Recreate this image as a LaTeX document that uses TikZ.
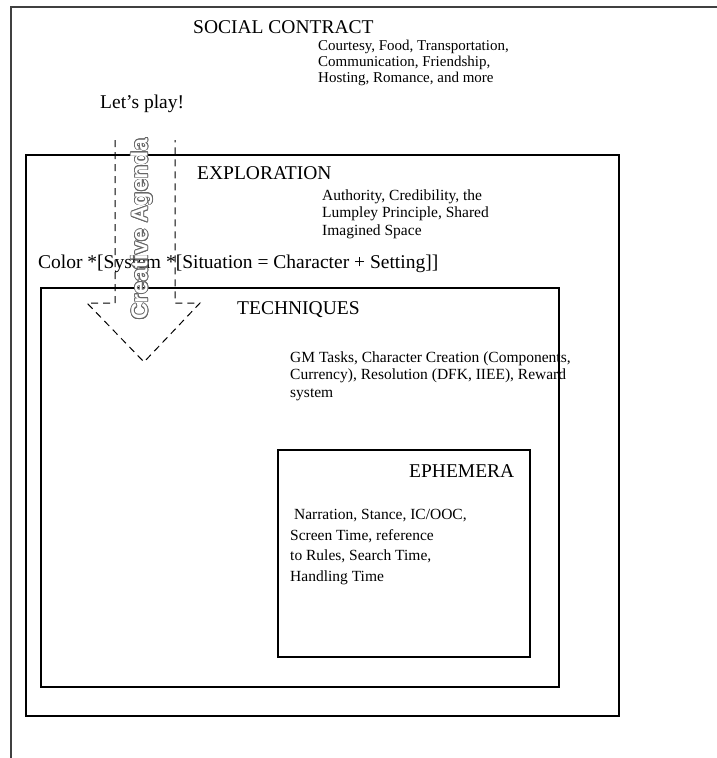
\documentclass[tikz,border=0pt]{standalone}
\usepackage{fontspec}
\setmainfont{Liberation Serif}
\newfontfamily\agendafont{Liberation Sans}
\usepackage{xcolor}
\usepackage{contour}
\contourlength{0.8pt}
\usepackage{tikz}
\usetikzlibrary{positioning}
\tikzset{
  heading/.style={anchor=base west, inner sep=0pt, font=\fontsize{19.5}{22}\selectfont},
  notes/.style={anchor=base west, inner sep=0pt, align=left,
                font=\fontsize{15.5}{17.5}\selectfont},
  frame/.style={draw=black, line width=1.1pt},
  agendaline/.style={draw=black, line width=1pt, dash pattern=on 7pt off 5pt},
  agenda/.style={rotate=90, inner sep=0pt, text=white,
                 font=\agendafont\bfseries\fontsize{23}{25}\selectfont},
}

\begin{document}
\begin{tikzpicture}[x=1pt, y=-1pt]
  \useasboundingbox (0,0) rectangle (717,758);

  % outer page frame (social contract)
  \draw[line width=2pt, draw=black!75] (11,758) -- (11,7) -- (717,7);
  \node[heading] (social) at (193,33) {SOCIAL CONTRACT};
  % base of a multi-line node = baseline of its last line
  \node[notes, font=\fontsize{15}{16}\selectfont] (socialnotes) at (318,82)
    {Courtesy, Food, Transportation,\\Communication, Friendship,\\Hosting, Romance, and more};
  \node[heading] (play) at (100,108) {Let’s play!};

  % exploration
  \draw[frame] (26,155) rectangle (619,716);
  \node[heading] (explore) at (197,179) {EXPLORATION};
  \node[notes] (explorenotes) at (322,235)
    {Authority, Credibility, the\\Lumpley Principle, Shared\\Imagined Space};
  \node[heading] (formula) at (38,268) {Color *[System *[Situation = Character + Setting]]};

  % techniques
  \draw[frame] (41,288) rectangle (559,687);
  \node[heading] (tech) at (237,314) {TECHNIQUES};
  \node[notes] (technotes) at (290,397)
    {GM Tasks, Character Creation (Components,\\Currency), Resolution (DFK, IIEE), Reward\\system};

  % ephemera
  \draw[frame] (278,450) rectangle (530,657);
  \node[heading] (ephem) at (409,477) {EPHEMERA};
  \node[notes, font=\fontsize{15.5}{20.5}\selectfont] (ephemnotes) at (290,581)
    {\ Narration, Stance, IC/OOC,\\Screen Time, reference\\to Rules, Search Time,\\Handling Time};

  % creative agenda arrow
  \coordinate (shaftL) at (115,140);
  \coordinate (shaftR) at (175,140);
  \coordinate (tip) at (144,362);
  \draw[agendaline] (shaftL) -- (115,303) -- (87,303) -- (tip)
    -- (200,303) -- (175,303) -- (shaftR);
  \node[agenda] (agenda) at (142,229) {\contour{black!60}{Creative Agenda}};
\end{tikzpicture}
\end{document}
